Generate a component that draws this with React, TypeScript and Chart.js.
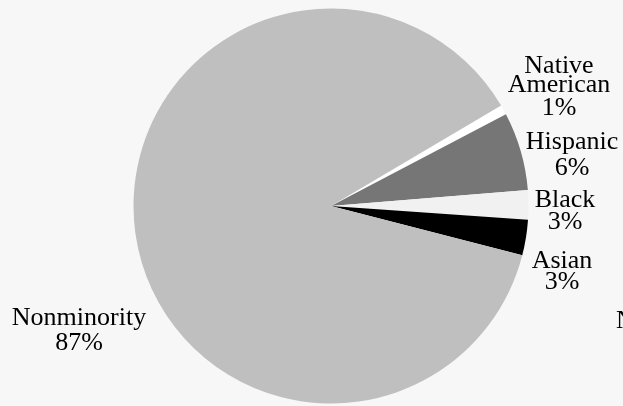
import React, { useEffect, useRef } from "react";
import { Chart, registerables } from "chart.js";

Chart.register(...registerables);

const categories = ["Native American", "Hispanic", "Black", "Asian", "Nonminority"];
const shares = [0.8, 6.4, 2.4, 2.9, 87.5];
const shareLabels = ["1%", "6%", "3%", "3%", "87%"];
const nameLines = [["Native", "American"], ["Hispanic"], ["Black"], ["Asian"], ["Nonminority"]];
const sliceColors = ["#ffffff", "#767676", "#f1f1f1", "#000000", "#bfbfbf"];
const clippedNote = "N";

// text layout (annotation placement only)
const labelLayout = [
  { x: 559, baselines: [73, 92, 115] },
  { x: 572, baselines: [149, 175] },
  { x: 565, baselines: [207, 229] },
  { x: 562, baselines: [268, 289] },
  { x: 79, baselines: [325, 350] },
];

const W = 623;
const H = 406;

export default function App() {
  const ref = useRef<HTMLCanvasElement | null>(null);

  useEffect(() => {
    document.body.style.margin = "0";
    const canvas = ref.current;
    if (!canvas) return;

    const bgPlugin = {
      id: "bg",
      beforeDraw(chart: any) {
        const ctx = chart.ctx;
        ctx.save();
        ctx.fillStyle = "#f7f7f7";
        ctx.fillRect(0, 0, chart.width, chart.height);
        ctx.restore();
      },
    };

    const labelPlugin = {
      id: "labels",
      afterDraw(chart: any) {
        const ctx = chart.ctx;
        ctx.save();
        ctx.fillStyle = "#000000";
        ctx.font = '26px "Liberation Serif", "Times New Roman", serif';
        ctx.textAlign = "center";
        ctx.textBaseline = "alphabetic";
        categories.forEach((_, i) => {
          const lines = [...nameLines[i], shareLabels[i]];
          const lay = labelLayout[i];
          lines.forEach((t, j) => ctx.fillText(t, lay.x, lay.baselines[j]));
        });
        ctx.textAlign = "left";
        ctx.fillText(clippedNote, 616, 328);
        ctx.restore();
      },
    };

    const cx = 331, cy = 206, r = 197.5;
    const chart = new Chart(canvas, {
      type: "pie",
      data: {
        labels: categories,
        datasets: [
          {
            data: shares,
            backgroundColor: sliceColors,
            borderWidth: 0,
            hoverOffset: 0,
            offset: 0,
          },
        ],
      },
      options: {
        responsive: false,
        animation: false,
        rotation: 59.45,
        layout: {
          padding: {
            left: cx - r,
            right: W - (cx + r),
            top: cy - r,
            bottom: H - (cy + r),
          },
        },
        plugins: {
          legend: { display: false },
          tooltip: { enabled: false },
        },
      },
      plugins: [bgPlugin, labelPlugin],
    });

    return () => chart.destroy();
  }, []);

  return (
    <div style={{ position: "absolute", left: 0, top: 0, width: W, height: H }}>
      <canvas ref={ref} width={W} height={H} style={{ width: W, height: H, display: "block" }} />
    </div>
  );
}
